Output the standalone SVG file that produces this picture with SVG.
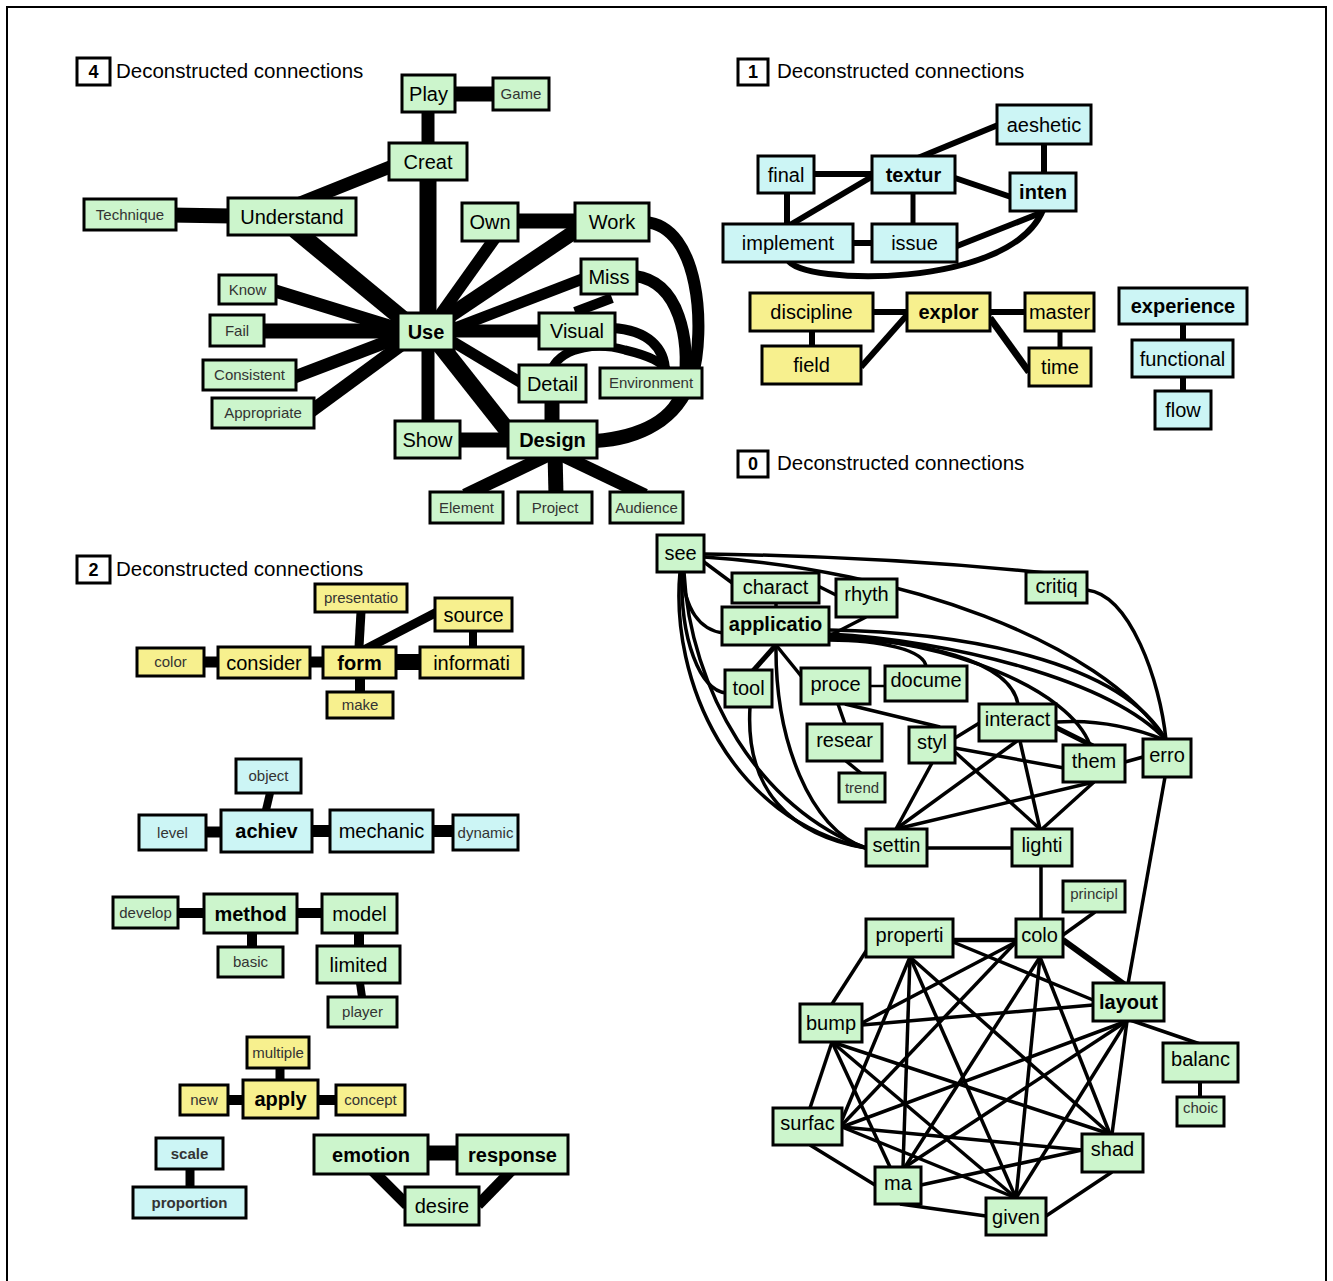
<svg xmlns="http://www.w3.org/2000/svg" width="1333" height="1281" viewBox="0 0 1333 1281">
<style>
  .frame { fill: none; stroke: #000; stroke-width: 2; }
  .tbox { fill: #fff; stroke: #000; stroke-width: 3; }
  .tnum { font: bold 18px "Liberation Sans", Arial, sans-serif; fill: #000; text-anchor: middle; }
  .title { font: 20.5px "Liberation Sans", Arial, sans-serif; fill: #000; }
  .node rect { stroke: #000; stroke-width: 3; }
  .g rect { fill: #ccf5cc; }
  .c rect { fill: #ccf5f5; }
  .y rect { fill: #f7f08e; }
  .node text { font-family: "Liberation Sans", Arial, sans-serif; text-anchor: middle; fill: #000; }
  .L { font-size: 20px; }
  .S { font-size: 15px; fill: #333 !important; }
  .B { font-weight: bold; }
  .e { fill: none; stroke: #000; stroke-linecap: butt; }
  .w3 { stroke-width: 3.5; }
  .w5 { stroke-width: 5; }
  .w6 { stroke-width: 6; }
</style>

<rect class="frame" x="7" y="7" width="1319" height="1285"/>

<!-- cluster headings -->
<g id="heading-4">
  <rect class="tbox" x="77" y="58" width="33" height="27"/>
  <text class="tnum" x="93.5" y="78">4</text>
  <text class="title" x="116" y="78">Deconstructed connections</text>
</g>
<g id="heading-1">
  <rect class="tbox" x="738" y="59" width="30" height="26"/>
  <text class="tnum" x="753" y="78">1</text>
  <text class="title" x="777" y="78">Deconstructed connections</text>
</g>
<g id="heading-0">
  <rect class="tbox" x="738" y="451" width="30" height="26"/>
  <text class="tnum" x="753" y="470">0</text>
  <text class="title" x="777" y="470">Deconstructed connections</text>
</g>
<g id="heading-2">
  <rect class="tbox" x="77" y="556" width="33" height="27"/>
  <text class="tnum" x="93.5" y="576">2</text>
  <text class="title" x="116" y="576">Deconstructed connections</text>
</g>

<g id="connectors">
  <!-- cluster 4: heavy links -->
  <g class="e" stroke="#000" fill="none">
    <line x1="450" y1="94" x2="495" y2="94" stroke-width="15"/>
    <line x1="428" y1="108" x2="428" y2="146" stroke-width="13"/>
    <line x1="395" y1="165" x2="295" y2="205" stroke-width="13"/>
    <line x1="170" y1="215" x2="232" y2="216" stroke-width="15"/>
    <line x1="428" y1="178" x2="428" y2="318" stroke-width="17"/>
    <line x1="295" y1="230" x2="410" y2="325" stroke-width="17"/>
    <line x1="515" y1="221" x2="578" y2="221" stroke-width="15"/>
    <line x1="495" y1="238" x2="438" y2="318" stroke-width="12"/>
    <line x1="580" y1="228" x2="440" y2="322" stroke-width="15"/>
    <line x1="585" y1="278" x2="450" y2="330" stroke-width="11"/>
    <line x1="272" y1="290" x2="402" y2="330" stroke-width="13"/>
    <line x1="262" y1="331" x2="402" y2="331" stroke-width="15"/>
    <line x1="292" y1="378" x2="402" y2="336" stroke-width="13"/>
    <line x1="310" y1="412" x2="408" y2="340" stroke-width="13"/>
    <line x1="450" y1="331" x2="545" y2="331" stroke-width="13"/>
    <line x1="450" y1="340" x2="525" y2="385" stroke-width="11"/>
    <line x1="428" y1="345" x2="428" y2="425" stroke-width="13"/>
    <line x1="440" y1="345" x2="515" y2="440" stroke-width="17"/>
    <line x1="455" y1="440" x2="512" y2="440" stroke-width="15"/>
    <line x1="552" y1="398" x2="552" y2="425" stroke-width="15"/>
    <line x1="555" y1="452" x2="465" y2="495" stroke-width="13"/>
    <line x1="555" y1="452" x2="556" y2="495" stroke-width="15"/>
    <line x1="555" y1="452" x2="645" y2="495" stroke-width="13"/>
    <line x1="575" y1="312" x2="612" y2="298" stroke-width="10"/>
    <path d="M645,222 C700,226 706,330 692,378 C678,420 640,440 595,442" stroke-width="12"/>
    <path d="M635,276 C680,282 690,340 684,385 C676,420 640,436 595,440" stroke-width="12"/>
    <path d="M612,328 C648,330 665,348 665,372" stroke-width="10"/>
    <path d="M552,368 C565,345 600,343 625,350 C650,356 662,362 668,372" stroke-width="9"/>
  </g>

  <!-- cluster 1 -->
  <g class="e w6">
    <line x1="814" y1="174" x2="872" y2="174"/>
    <line x1="913" y1="160" x2="998" y2="125"/>
    <line x1="1044" y1="144" x2="1044" y2="173"/>
    <line x1="955" y1="178" x2="1011" y2="197"/>
    <line x1="913" y1="193" x2="913" y2="224" stroke-width="5"/>
    <line x1="787" y1="193" x2="787" y2="224"/>
    <line x1="790" y1="225" x2="873" y2="176"/>
    <line x1="853" y1="243" x2="872" y2="243"/>
    <line x1="957" y1="246" x2="1043" y2="212"/>
    <path d="M788,260 C800,285 1010,290 1043,210"/>
    <line x1="873" y1="312" x2="907" y2="312"/>
    <line x1="812" y1="331" x2="812" y2="346"/>
    <line x1="861" y1="367" x2="907" y2="315"/>
    <line x1="990" y1="312" x2="1025" y2="312"/>
    <line x1="1060" y1="331" x2="1060" y2="348" stroke-width="5"/>
    <line x1="990" y1="318" x2="1029" y2="372" stroke-width="7"/>
    <line x1="1183" y1="324" x2="1183" y2="340"/>
    <line x1="1183" y1="377" x2="1183" y2="391"/>
  </g>

  <!-- cluster 2 -->
  <g class="e">
    <line x1="204" y1="662" x2="218" y2="662" stroke-width="11"/>
    <line x1="310" y1="662" x2="323" y2="662" stroke-width="11"/>
    <line x1="396" y1="662" x2="420" y2="662" stroke-width="16"/>
    <line x1="361" y1="612" x2="359" y2="647" stroke-width="9"/>
    <line x1="437" y1="612" x2="360" y2="652" stroke-width="9"/>
    <line x1="473" y1="631" x2="473" y2="647" stroke-width="8"/>
    <line x1="360" y1="678" x2="360" y2="692" stroke-width="10"/>
    <line x1="270" y1="793" x2="266" y2="810" stroke-width="8"/>
    <line x1="206" y1="832" x2="221" y2="832" stroke-width="11"/>
    <line x1="312" y1="831" x2="330" y2="831" stroke-width="12"/>
    <line x1="433" y1="831" x2="453" y2="831" stroke-width="12"/>
    <line x1="178" y1="913" x2="204" y2="913" stroke-width="10"/>
    <line x1="297" y1="913" x2="322" y2="913" stroke-width="10"/>
    <line x1="252" y1="933" x2="252" y2="947" stroke-width="10"/>
    <line x1="359" y1="933" x2="359" y2="946" stroke-width="10"/>
    <line x1="360" y1="983" x2="362" y2="997" stroke-width="8"/>
    <line x1="280" y1="1068" x2="280" y2="1080" stroke-width="9"/>
    <line x1="228" y1="1100" x2="243" y2="1100" stroke-width="10"/>
    <line x1="318" y1="1100" x2="336" y2="1100" stroke-width="10"/>
    <line x1="190" y1="1169" x2="190" y2="1187" stroke-width="9"/>
    <line x1="428" y1="1153" x2="457" y2="1153" stroke-width="15"/>
    <line x1="372" y1="1170" x2="407" y2="1205" stroke-width="11"/>
    <line x1="512" y1="1170" x2="478" y2="1205" stroke-width="11"/>
  </g>

  <!-- cluster 0 -->
  <g class="e w3">
    <path d="M704,554 Q880,556 1057,574"/>
    <path d="M704,557 C900,570 1100,640 1166,740"/>
    <path d="M1087,590 C1130,595 1160,680 1166,740"/>
    <path d="M829,630 C960,632 1120,660 1166,740"/>
    <path d="M829,634 C950,640 1110,680 1166,740"/>
    <path d="M829,636 C950,640 1070,690 1090,745"/>
    <path d="M829,638 C920,640 1010,660 1018,704"/>
    <path d="M829,640 C880,640 925,650 926,667"/>
    <line x1="704" y1="562" x2="735" y2="585"/>
    <path d="M682,572 C685,610 700,630 723,633"/>
    <path d="M682,572 C680,640 700,690 726,693"/>
    <path d="M680,572 C670,680 730,820 866,848"/>
    <path d="M684,572 C690,690 760,810 866,848"/>
    <path d="M750,707 C745,790 790,835 866,848"/>
    <path d="M776,645 C775,740 810,830 866,848"/>
    <line x1="776" y1="645" x2="752" y2="672" stroke-width="5"/>
    <line x1="776" y1="645" x2="806" y2="682"/>
    <line x1="776" y1="603" x2="776" y2="607"/>
    <line x1="818" y1="586" x2="838" y2="596"/>
    <line x1="829" y1="636" x2="866" y2="617"/>
    <line x1="870" y1="686" x2="885" y2="686" stroke-width="2.5"/>
    <line x1="838" y1="704" x2="845" y2="724"/>
    <line x1="845" y1="704" x2="940" y2="727"/>
    <line x1="846" y1="761" x2="862" y2="774"/>
    <line x1="955" y1="738" x2="981" y2="722"/>
    <line x1="955" y1="748" x2="1064" y2="768"/>
    <line x1="932" y1="763" x2="896" y2="829"/>
    <line x1="955" y1="752" x2="1040" y2="829"/>
    <line x1="1055" y1="727" x2="1093" y2="746" stroke-width="5"/>
    <path d="M1056,722 Q1110,718 1165,740"/>
    <line x1="1017" y1="741" x2="896" y2="829"/>
    <line x1="1020" y1="741" x2="1040" y2="829"/>
    <line x1="1125" y1="762" x2="1143" y2="757"/>
    <line x1="1094" y1="782" x2="896" y2="829"/>
    <line x1="1094" y1="782" x2="1042" y2="829"/>
    <line x1="927" y1="848" x2="1012" y2="848"/>
    <line x1="1041" y1="866" x2="1041" y2="919"/>
    <line x1="1165" y1="777" x2="1128" y2="984"/>
    <line x1="1063" y1="935" x2="1095" y2="912"/>
    <line x1="1063" y1="940" x2="1125" y2="985" stroke-width="6"/>
    <line x1="1130" y1="1020" x2="1200" y2="1044"/>
    <line x1="1200" y1="1082" x2="1200" y2="1097" stroke-width="4"/>
    <!-- shading mesh -->
    <line x1="953" y1="940" x2="1016" y2="940" stroke-width="4.5"/>
    <line x1="953" y1="942" x2="1093" y2="1000"/>
    <line x1="870" y1="945" x2="832" y2="1004"/>
    <line x1="910" y1="957" x2="842" y2="1120"/>
    <line x1="910" y1="957" x2="903" y2="1167"/>
    <line x1="910" y1="957" x2="1016" y2="1198"/>
    <line x1="910" y1="957" x2="1110" y2="1134"/>
    <line x1="1016" y1="942" x2="862" y2="1023"/>
    <line x1="1016" y1="942" x2="842" y2="1125"/>
    <line x1="1040" y1="957" x2="905" y2="1167"/>
    <line x1="1040" y1="957" x2="1016" y2="1198"/>
    <line x1="1040" y1="957" x2="1110" y2="1134"/>
    <line x1="1093" y1="1005" x2="862" y2="1025"/>
    <line x1="1127" y1="1021" x2="842" y2="1127"/>
    <line x1="1127" y1="1021" x2="905" y2="1167"/>
    <line x1="1127" y1="1021" x2="1016" y2="1198"/>
    <line x1="1127" y1="1021" x2="1112" y2="1134"/>
    <line x1="832" y1="1042" x2="810" y2="1108"/>
    <line x1="832" y1="1042" x2="890" y2="1167"/>
    <line x1="832" y1="1042" x2="1016" y2="1198"/>
    <line x1="832" y1="1042" x2="1110" y2="1134"/>
    <line x1="810" y1="1145" x2="875" y2="1185"/>
    <line x1="842" y1="1127" x2="1016" y2="1198"/>
    <line x1="842" y1="1127" x2="1082" y2="1150"/>
    <line x1="900" y1="1204" x2="986" y2="1216"/>
    <line x1="921" y1="1185" x2="1082" y2="1150"/>
    <line x1="1046" y1="1216" x2="1112" y2="1172"/>
  </g>
</g>

<!-- cluster 4 nodes -->
<g id="n-play" class="node g"><rect x="402" y="75" width="53" height="37"/><text class="L" x="428.5" y="100.5">Play</text></g>
<g id="n-game" class="node g"><rect x="493" y="78" width="56" height="32"/><text class="S" x="521" y="99">Game</text></g>
<g id="n-creat" class="node g"><rect x="389" y="143" width="78" height="37"/><text class="L" x="428" y="168.5">Creat</text></g>
<g id="n-technique" class="node g"><rect x="84" y="199" width="92" height="31"/><text class="S" x="130" y="219.5">Technique</text></g>
<g id="n-understand" class="node g"><rect x="228" y="198" width="128" height="37"/><text class="L" x="292" y="223.5">Understand</text></g>
<g id="n-own" class="node g"><rect x="462" y="203" width="56" height="38"/><text class="L" x="490" y="229">Own</text></g>
<g id="n-work" class="node g"><rect x="575" y="203" width="74" height="38"/><text class="L" x="612" y="229">Work</text></g>
<g id="n-miss" class="node g"><rect x="581" y="259" width="56" height="35"/><text class="L" x="609" y="283.5">Miss</text></g>
<g id="n-know" class="node g"><rect x="219" y="275" width="57" height="29"/><text class="S" x="247.5" y="294.5">Know</text></g>
<g id="n-fail" class="node g"><rect x="210" y="315" width="54" height="31"/><text class="S" x="237" y="335.5">Fail</text></g>
<g id="n-use" class="node g"><rect x="398" y="313" width="56" height="37"/><text class="L B" x="426" y="338.5">Use</text></g>
<g id="n-visual" class="node g"><rect x="539" y="313" width="76" height="36"/><text class="L" x="577" y="338">Visual</text></g>
<g id="n-consistent" class="node g"><rect x="203" y="360" width="93" height="30"/><text class="S" x="249.5" y="380">Consistent</text></g>
<g id="n-environment" class="node g"><rect x="600" y="368" width="102" height="30"/><text class="S" x="651" y="388">Environment</text></g>
<g id="n-detail" class="node g"><rect x="519" y="365" width="67" height="37"/><text class="L" x="552.5" y="390.5">Detail</text></g>
<g id="n-appropriate" class="node g"><rect x="212" y="398" width="102" height="30"/><text class="S" x="263" y="418">Appropriate</text></g>
<g id="n-show" class="node g"><rect x="395" y="421" width="65" height="37"/><text class="L" x="427.5" y="446.5">Show</text></g>
<g id="n-design" class="node g"><rect x="508" y="421" width="89" height="37"/><text class="L B" x="552.5" y="446.5">Design</text></g>
<g id="n-element" class="node g"><rect x="430" y="492" width="73" height="31"/><text class="S" x="466.5" y="512.5">Element</text></g>
<g id="n-project" class="node g"><rect x="518" y="492" width="74" height="31"/><text class="S" x="555" y="512.5">Project</text></g>
<g id="n-audience" class="node g"><rect x="610" y="492" width="73" height="31"/><text class="S" x="646.5" y="512.5">Audience</text></g>

<!-- cluster 1 nodes -->
<g id="n-final" class="node c"><rect x="758" y="156" width="56" height="37"/><text class="L" x="786" y="181.5">final</text></g>
<g id="n-textur" class="node c"><rect x="872" y="156" width="83" height="37"/><text class="L B" x="913.5" y="181.5">textur</text></g>
<g id="n-aeshetic" class="node c"><rect x="997" y="105" width="94" height="39"/><text class="L" x="1044" y="131.5">aeshetic</text></g>
<g id="n-inten" class="node c"><rect x="1010" y="173" width="66" height="38"/><text class="L B" x="1043" y="199">inten</text></g>
<g id="n-implement" class="node c"><rect x="723" y="224" width="130" height="38"/><text class="L" x="788" y="250">implement</text></g>
<g id="n-issue" class="node c"><rect x="872" y="224" width="85" height="38"/><text class="L" x="914.5" y="250">issue</text></g>
<g id="n-discipline" class="node y"><rect x="750" y="293" width="123" height="38"/><text class="L" x="811.5" y="319">discipline</text></g>
<g id="n-field" class="node y"><rect x="762" y="346" width="99" height="38"/><text class="L" x="811.5" y="372">field</text></g>
<g id="n-explor" class="node y"><rect x="907" y="293" width="83" height="38"/><text class="L B" x="948.5" y="319">explor</text></g>
<g id="n-master" class="node y"><rect x="1025" y="293" width="69" height="38"/><text class="L" x="1059.5" y="319">master</text></g>
<g id="n-time" class="node y"><rect x="1029" y="348" width="62" height="38"/><text class="L" x="1060" y="374">time</text></g>
<g id="n-experience" class="node c"><rect x="1119" y="288" width="128" height="36"/><text class="L B" x="1183" y="313">experience</text></g>
<g id="n-functional" class="node c"><rect x="1132" y="340" width="101" height="37"/><text class="L" x="1182.5" y="365.5">functional</text></g>
<g id="n-flow" class="node c"><rect x="1155" y="391" width="56" height="38"/><text class="L" x="1183" y="417">flow</text></g>

<!-- cluster 2 nodes -->
<g id="n-presentatio" class="node y"><rect x="315" y="584" width="92" height="28"/><text class="S" x="361" y="603">presentatio</text></g>
<g id="n-source" class="node y"><rect x="435" y="598" width="77" height="33"/><text class="L" x="473.5" y="621.5">source</text></g>
<g id="n-color" class="node y"><rect x="137" y="648" width="67" height="28"/><text class="S" x="170.5" y="667">color</text></g>
<g id="n-consider" class="node y"><rect x="218" y="647" width="92" height="31"/><text class="L" x="264" y="669.5">consider</text></g>
<g id="n-form" class="node y"><rect x="323" y="647" width="73" height="31"/><text class="L B" x="359.5" y="669.5">form</text></g>
<g id="n-informati" class="node y"><rect x="420" y="647" width="103" height="31"/><text class="L" x="471.5" y="669.5">informati</text></g>
<g id="n-make" class="node y"><rect x="327" y="692" width="66" height="26"/><text class="S" x="360" y="710">make</text></g>

<g id="n-object" class="node c"><rect x="236" y="759" width="65" height="34"/><text class="S" x="268.5" y="781">object</text></g>
<g id="n-level" class="node c"><rect x="139" y="815" width="67" height="35"/><text class="S" x="172.5" y="837.5">level</text></g>
<g id="n-achiev" class="node c"><rect x="221" y="810" width="91" height="42"/><text class="L B" x="266.5" y="838">achiev</text></g>
<g id="n-mechanic" class="node c"><rect x="330" y="810" width="103" height="42"/><text class="L" x="381.5" y="838">mechanic</text></g>
<g id="n-dynamic" class="node c"><rect x="453" y="815" width="65" height="35"/><text class="S" x="485.5" y="837.5">dynamic</text></g>

<g id="n-develop" class="node g"><rect x="113" y="897" width="65" height="31"/><text class="S" x="145.5" y="917.5">develop</text></g>
<g id="n-method" class="node g"><rect x="204" y="894" width="93" height="39"/><text class="L B" x="250.5" y="920.5">method</text></g>
<g id="n-model" class="node g"><rect x="322" y="894" width="75" height="39"/><text class="L" x="359.5" y="920.5">model</text></g>
<g id="n-basic" class="node g"><rect x="218" y="947" width="65" height="30"/><text class="S" x="250.5" y="967">basic</text></g>
<g id="n-limited" class="node g"><rect x="317" y="946" width="83" height="37"/><text class="L" x="358.5" y="971.5">limited</text></g>
<g id="n-player" class="node g"><rect x="328" y="997" width="69" height="30"/><text class="S" x="362.5" y="1017">player</text></g>

<g id="n-multiple" class="node y"><rect x="247" y="1037" width="62" height="31"/><text class="S" x="278" y="1057.5">multiple</text></g>
<g id="n-new" class="node y"><rect x="180" y="1085" width="48" height="30"/><text class="S" x="204" y="1105">new</text></g>
<g id="n-apply" class="node y"><rect x="243" y="1080" width="75" height="38"/><text class="L B" x="280.5" y="1106">apply</text></g>
<g id="n-concept" class="node y"><rect x="336" y="1085" width="69" height="30"/><text class="S" x="370.5" y="1105">concept</text></g>

<g id="n-scale" class="node c"><rect x="156" y="1138" width="67" height="31"/><text class="S B" x="189.5" y="1158.5" style="fill:#000">scale</text></g>
<g id="n-proportion" class="node c"><rect x="133" y="1187" width="113" height="31"/><text class="S B" x="189.5" y="1207.5" style="fill:#000">proportion</text></g>

<g id="n-emotion" class="node g"><rect x="314" y="1135" width="114" height="39"/><text class="L B" x="371" y="1161.5">emotion</text></g>
<g id="n-response" class="node g"><rect x="457" y="1135" width="111" height="39"/><text class="L B" x="512.5" y="1161.5">response</text></g>
<g id="n-desire" class="node g"><rect x="405" y="1187" width="74" height="38"/><text class="L" x="442" y="1213">desire</text></g>

<!-- cluster 0 nodes -->
<g id="n-see" class="node g"><rect x="657" y="535" width="47" height="37"/><text class="L" x="680.5" y="560">see</text></g>
<g id="n-charact" class="node g"><rect x="732" y="573" width="87" height="30"/><text class="L" x="775.5" y="594">charact</text></g>
<g id="n-rhyth" class="node g"><rect x="836" y="579" width="61" height="38"/><text class="L" x="866.5" y="601">rhyth</text></g>
<g id="n-applicatio" class="node g"><rect x="722" y="607" width="107" height="38"/><text class="L B" x="775.5" y="631">applicatio</text></g>
<g id="n-critiq" class="node g"><rect x="1026" y="572" width="61" height="31"/><text class="L" x="1056.5" y="593">critiq</text></g>
<g id="n-tool" class="node g"><rect x="725" y="670" width="47" height="37"/><text class="L" x="748.5" y="695">tool</text></g>
<g id="n-proce" class="node g"><rect x="801" y="668" width="69" height="36"/><text class="L" x="835.5" y="691">proce</text></g>
<g id="n-docume" class="node g"><rect x="885" y="666" width="82" height="35"/><text class="L" x="926" y="687">docume</text></g>
<g id="n-resear" class="node g"><rect x="807" y="724" width="75" height="37"/><text class="L" x="844.5" y="747">resear</text></g>
<g id="n-trend" class="node g"><rect x="839" y="773" width="46" height="29"/><text class="S" x="862" y="793">trend</text></g>
<g id="n-styl" class="node g"><rect x="909" y="727" width="46" height="36"/><text class="L" x="932" y="749">styl</text></g>
<g id="n-interact" class="node g"><rect x="979" y="704" width="77" height="37"/><text class="L" x="1017.5" y="726">interact</text></g>
<g id="n-them" class="node g"><rect x="1063" y="745" width="62" height="37"/><text class="L" x="1094" y="768">them</text></g>
<g id="n-erro" class="node g"><rect x="1143" y="739" width="48" height="38"/><text class="L" x="1167" y="762">erro</text></g>
<g id="n-settin" class="node g"><rect x="866" y="829" width="61" height="37"/><text class="L" x="896.5" y="852">settin</text></g>
<g id="n-lighti" class="node g"><rect x="1012" y="829" width="60" height="37"/><text class="L" x="1042" y="852">lighti</text></g>
<g id="n-principl" class="node g"><rect x="1063" y="881" width="62" height="31"/><text class="S" x="1094" y="899">principl</text></g>
<g id="n-properti" class="node g"><rect x="866" y="919" width="87" height="38"/><text class="L" x="909.5" y="942">properti</text></g>
<g id="n-colo" class="node g"><rect x="1016" y="919" width="47" height="38"/><text class="L" x="1039.5" y="942">colo</text></g>
<g id="n-layout" class="node g"><rect x="1093" y="983" width="71" height="38"/><text class="L B" x="1128.5" y="1009">layout</text></g>
<g id="n-bump" class="node g"><rect x="800" y="1004" width="62" height="38"/><text class="L" x="831" y="1030">bump</text></g>
<g id="n-balanc" class="node g"><rect x="1163" y="1043" width="75" height="39"/><text class="L" x="1200.5" y="1066">balanc</text></g>
<g id="n-choic" class="node g"><rect x="1177" y="1097" width="47" height="29"/><text class="S" x="1200.5" y="1113">choic</text></g>
<g id="n-surfac" class="node g"><rect x="773" y="1108" width="69" height="37"/><text class="L" x="807.5" y="1130">surfac</text></g>
<g id="n-shad" class="node g"><rect x="1082" y="1134" width="61" height="38"/><text class="L" x="1112.5" y="1156">shad</text></g>
<g id="n-ma" class="node g"><rect x="875" y="1167" width="46" height="37"/><text class="L" x="898" y="1190">ma</text></g>
<g id="n-given" class="node g"><rect x="986" y="1198" width="60" height="37"/><text class="L" x="1016" y="1224">given</text></g>
</svg>
